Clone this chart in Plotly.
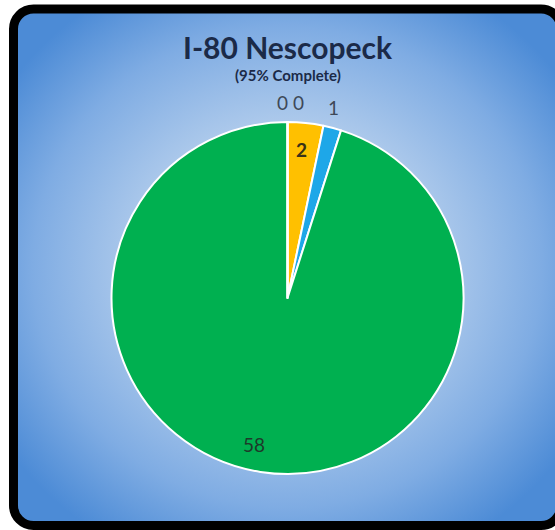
import base64
import math
import plotly.graph_objects as go

# ---- data ----
categories = ["A", "B", "C", "D", "E"]
values = [2, 1, 58, 0, 0]
slice_colors = ["#FFC000", "#1EA7E8", "#00B050", "#7F7F7F", "#A5A5A5"]
label_text = ["2", "1", "58", "0", "0"]
title_text = "I-80 Nescopeck"
subtitle_text = "(95% Complete)"

# ---- style ----
W, H = 555, 530
cx, cy, R = 287.5, 298.0, 176.0
label_r = [0.86, 1.11, 0.845, 1.11, 1.11]
label_dx = [-2, -4, -11, -5, 11]
label_dy = [2, -2, 0, 0, 0]
label_col = ["#3A3318", "#3E4858", "#1E3A2A", "#3E4858", "#3E4858"]
label_bold = [True, False, False, False, False]

svg = f'''<svg xmlns="http://www.w3.org/2000/svg" width="{W}" height="{H}" viewBox="0 0 {W} {H}" preserveAspectRatio="none">
<defs><radialGradient id="g" cx="50%" cy="50%" r="62%">
<stop offset="0%" stop-color="#E4EEF9"/>
<stop offset="35%" stop-color="#BCD3EE"/>
<stop offset="75%" stop-color="#7FACE3"/>
<stop offset="100%" stop-color="#4C8BD6"/>
</radialGradient></defs>
<rect x="0" y="0" width="{W}" height="{H}" fill="#ffffff"/>
<rect x="13.5" y="9" width="547.5" height="516.5" rx="20" ry="20" fill="url(#g)" stroke="#000000" stroke-width="9"/>
</svg>'''
src = "data:image/svg+xml;base64," + base64.b64encode(svg.encode()).decode()

fig = go.Figure()
fig.add_trace(go.Pie(
    labels=categories,
    values=values,
    sort=False,
    direction="clockwise",
    rotation=0,
    marker=dict(colors=slice_colors, line=dict(color="#FFFFFF", width=2)),
    textinfo="none",
    hoverinfo="label+value",
    showlegend=False,
    domain=dict(x=[(cx - R) / W, (cx + R) / W], y=[1 - (cy + R) / H, 1 - (cy - R) / H]),
))

total = sum(values)
cum = 0
annotations = []
for i, v in enumerate(values):
    mid = (cum + v / 2) / total * 2 * math.pi
    cum += v
    px = cx + label_r[i] * R * math.sin(mid)
    py = cy - label_r[i] * R * math.cos(mid)
    txt = f"<b>{label_text[i]}</b>" if label_bold[i] else label_text[i]
    annotations.append(dict(
        x=px / W, y=1 - py / H, xref="paper", yref="paper",
        text=txt, showarrow=False, xshift=label_dx[i], yshift=-label_dy[i],
        font=dict(family="Lato", size=19, color=label_col[i]),
        xanchor="center", yanchor="middle",
    ))

annotations.append(dict(x=287.5 / W, y=1 - 47 / H, xref="paper", yref="paper",
                        text=f"<b>{title_text}</b>", showarrow=False,
                        font=dict(family="Lato", size=30, color="#1B2A48"),
                        xanchor="center", yanchor="middle"))
annotations.append(dict(x=288 / W, y=1 - 75 / H, xref="paper", yref="paper",
                        text=f"<b>{subtitle_text}</b>", showarrow=False,
                        font=dict(family="Lato", size=15, color="#1B2A48"),
                        xanchor="center", yanchor="middle"))

fig.update_layout(
    width=W, height=H,
    margin=dict(l=0, r=0, t=0, b=0),
    paper_bgcolor="#FFFFFF",
    plot_bgcolor="rgba(0,0,0,0)",
    images=[dict(source=src, xref="paper", yref="paper", x=0, y=1, sizex=1, sizey=1,
                 sizing="stretch", layer="below", xanchor="left", yanchor="top")],
    annotations=annotations,
)

fig.write_html("out.html",
               config={"displayModeBar": False},
               post_script="document.body.style.margin='0px';document.body.style.overflow='hidden';")
